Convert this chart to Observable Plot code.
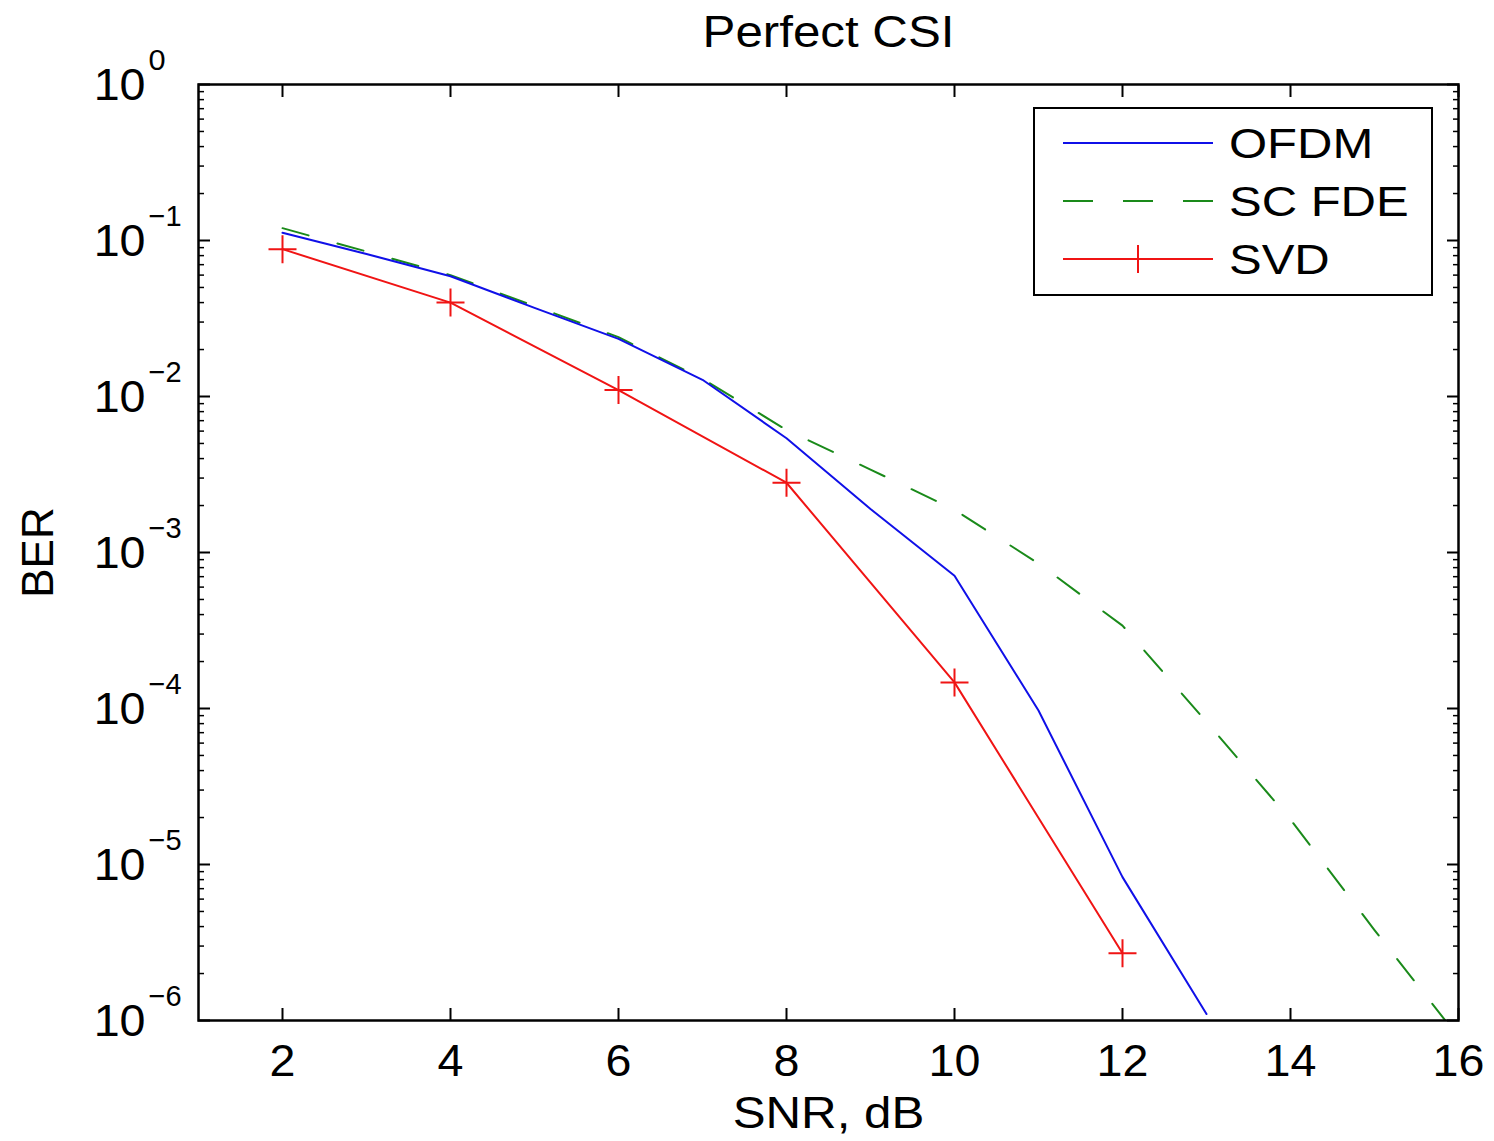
<!DOCTYPE html>
<html>
<head>
<meta charset="utf-8">
<script src="https://cdn.jsdelivr.net/npm/d3@7"></script>
<script src="https://cdn.jsdelivr.net/npm/@observablehq/plot@0.6"></script>
<style>
  html, body { margin: 0; padding: 0; background: #ffffff; }
  #wrap { position: relative; width: 1494px; height: 1141px; font-family: "Liberation Sans", Arial, sans-serif; }
  #legend { position: absolute; left: 1033px; top: 107px; }
</style>
</head>
<body>
<div id="wrap"></div>
<script>
// ---- data ----
const titleText = "Perfect CSI";
const xLabel = "SNR, dB";
const yLabel = "BER";

const ofdmSnr = [2, 3, 4, 5, 6, 7, 8, 9, 10, 11, 12, 13];
const ofdmBer = [0.112, 0.082, 0.059, 0.037, 0.0234, 0.0128, 0.0054, 0.0019, 0.00071, 0.000097, 0.0000083, 0.0000011];

const scfdeSnr = [2, 3, 4, 5, 6, 7, 8, 9, 10, 11, 12, 13, 14, 15, 16];
const scfdeBer = [0.12, 0.085, 0.060, 0.038, 0.024, 0.013, 0.0061, 0.0034, 0.00188, 0.00085, 0.00034, 0.000082, 0.0000194, 0.0000038, 0.00000078];

const svdSnr = [2, 4, 6, 8, 10, 12];
const svdBer = [0.088, 0.040, 0.011, 0.0028, 0.000147, 0.0000027];

const seriesNames = ["OFDM", "SC FDE", "SVD"];
const seriesColors = ["#1010e8", "#1a8a1a", "#f01414"];

const xTicks = [2, 4, 6, 8, 10, 12, 14, 16];
const yExponents = [0, -1, -2, -3, -4, -5, -6];
const yTickLabels = yExponents.map(e => (e < 0 ? "\u2212" + Math.abs(e) : String(e)));

// ---- derived tables ----
const ofdm = ofdmSnr.map((x, i) => ({x, y: ofdmBer[i]}));
const scfde = scfdeSnr.map((x, i) => ({x, y: scfdeBer[i]}));
const svd = svdSnr.map((x, i) => ({x, y: svdBer[i]}));
const yMajor = yExponents.map(e => Math.pow(10, e));
const yMinor = [];
for (let e = -6; e < 0; e++) for (let m = 2; m <= 9; m++) yMinor.push(m * Math.pow(10, e));
const yLabelRows = yExponents.map((e, i) => ({v: Math.pow(10, e), exp: yTickLabels[i]}));

const plusSymbol = {
  draw(ctx, size) {
    const r = Math.sqrt(size / Math.PI);
    ctx.moveTo(-r, 0); ctx.lineTo(r, 0);
    ctx.moveTo(0, -r); ctx.lineTo(0, r);
  }
};

const font = "Liberation Sans, Arial, sans-serif";

const chart = Plot.plot({
  width: 1494,
  height: 1141,
  marginLeft: 198,
  marginRight: 36,
  marginTop: 84,
  marginBottom: 121,
  style: {fontFamily: font, background: "#ffffff", color: "#000"},
  x: {domain: [1, 16]},
  y: {type: "log", domain: [1e-6, 1]},
  marks: [
    // ticks (inward)
    Plot.axisX({anchor: "bottom", ticks: xTicks, tickSize: -12, tickFormat: () => "", label: null, strokeWidth: 2}),
    Plot.axisX({anchor: "top", ticks: xTicks, tickSize: -12, tickFormat: () => "", label: null, strokeWidth: 2}),
    Plot.axisY({anchor: "left", ticks: yMajor, tickSize: -12, tickFormat: () => "", label: null, strokeWidth: 2}),
    Plot.axisY({anchor: "right", ticks: yMajor, tickSize: -12, tickFormat: () => "", label: null, strokeWidth: 2}),
    Plot.axisY({anchor: "left", ticks: yMinor, tickSize: -6, tickFormat: () => "", label: null, strokeWidth: 1.5}),
    Plot.axisY({anchor: "right", ticks: yMinor, tickSize: -6, tickFormat: () => "", label: null, strokeWidth: 1.5}),
    // series
    Plot.line(scfde, {x: "x", y: "y", stroke: seriesColors[1], strokeWidth: 2, strokeDasharray: "27,30", clip: true}),
    Plot.line(ofdm, {x: "x", y: "y", stroke: seriesColors[0], strokeWidth: 2, clip: true}),
    Plot.line(svd, {x: "x", y: "y", stroke: seriesColors[2], strokeWidth: 2, clip: true}),
    Plot.dot(svd, {x: "x", y: "y", symbol: plusSymbol, r: 14, stroke: seriesColors[2], fill: "none", strokeWidth: 2}),
    Plot.frame({stroke: "#000", strokeWidth: 2.5}),
    // tick labels
    Plot.text(xTicks, {x: d => d, frameAnchor: "bottom", dy: 41, text: d => String(d), fontSize: 44, textAnchor: "middle", lineAnchor: "middle", fill: "#000"}),
    Plot.text(yLabelRows, {y: "v", frameAnchor: "left", dx: -53, dy: 1, text: () => "10", fontSize: 44, textAnchor: "end", lineAnchor: "middle", fill: "#000"}),
    Plot.text(yLabelRows, {y: "v", frameAnchor: "left", dx: -50, dy: -24, text: "exp", fontSize: 29, textAnchor: "start", lineAnchor: "middle", fill: "#000"}),
    // axis labels and title
    Plot.text([xLabel], {frameAnchor: "bottom", dy: 93, text: d => d, fontSize: 44, textAnchor: "middle", lineAnchor: "middle", fill: "#000"}),
    Plot.text([yLabel], {frameAnchor: "left", dx: -160, text: d => d, fontSize: 44, rotate: -90, textAnchor: "middle", lineAnchor: "middle", fill: "#000"}),
    Plot.text([titleText], {frameAnchor: "top", dy: -52, text: d => d, fontSize: 44, textAnchor: "middle", lineAnchor: "middle", fill: "#000"})
  ]
});
document.getElementById("wrap").appendChild(chart);

// widen glyphs slightly (reference text is horizontally wider than Liberation Sans)
function stretch(el, s) {
  const t = el.getAttribute("transform");
  if (t) {
    el.setAttribute("transform", t + ` scale(${s},1)`);
  } else {
    const x = +(el.getAttribute("x") || 0), y = +(el.getAttribute("y") || 0);
    el.removeAttribute("x"); el.removeAttribute("y");
    el.setAttribute("transform", `translate(${x},${y}) scale(${s},1)`);
  }
}
d3.select(chart).selectAll("text").each(function () {
  const s = this.textContent;
  if (s === yLabel) return;
  if (/^\d+$/.test(s)) stretch(this, 1.06);
  else if (s === titleText || s === xLabel) stretch(this, 1.12);
});

// ---- legend ----
const lw = 399, lh = 188;
const leg = d3.select("#wrap").append("svg")
  .attr("id", "legend").attr("width", lw + 2).attr("height", lh + 2)
  .style("font-family", font);
leg.append("rect").attr("x", 1).attr("y", 1).attr("width", lw - 1).attr("height", lh - 1)
  .attr("fill", "#fff").attr("stroke", "#000").attr("stroke-width", 2);
const rowsY = [36, 94, 152];
seriesNames.forEach((name, i) => {
  const g = leg.append("g");
  const ln = g.append("line").attr("x1", 30).attr("x2", 180).attr("y1", rowsY[i]).attr("y2", rowsY[i])
    .attr("stroke", seriesColors[i]).attr("stroke-width", 2);
  if (i === 1) ln.attr("stroke-dasharray", "30,30");
  if (i === 2) {
    g.append("line").attr("x1", 105).attr("x2", 105).attr("y1", rowsY[i] - 14).attr("y2", rowsY[i] + 14)
      .attr("stroke", seriesColors[i]).attr("stroke-width", 2);
  }
  g.append("text").attr("x", 0).attr("y", 0).attr("dy", "0.35em")
    .attr("transform", `translate(196,${rowsY[i]}) scale(1.14,1)`)
    .attr("font-size", 43).attr("fill", "#000").text(name);
});
</script>
</body>
</html>
